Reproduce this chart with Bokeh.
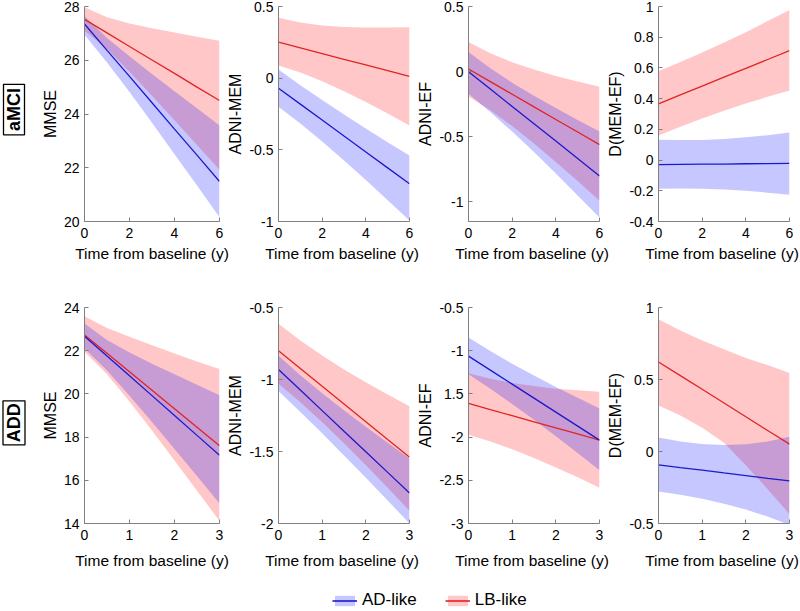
import math
from bokeh.plotting import figure
from bokeh.models import Range1d, FixedTicker, ColumnDataSource, Legend, LegendItem
from bokeh.layouts import row, column
from bokeh.embed import file_html
from bokeh.resources import INLINE
from bokeh.core.properties import value

FONT = "Liberation Sans"
AD_LINE = "#1a1acc"
LB_LINE = "#e02424"
AD_FILL = "#0000ff"
LB_FILL = "#ff0000"
FILL_ALPHA = 0.22
AXIS_GRAY = "#808080"

# ---------------- data ----------------
row_labels = ["aMCI", "ADD"]
x_label = "Time from baseline (y)"
legend_labels = ["AD-like", "LB-like"]
y_titles = ["MMSE", "ADNI-MEM", "ADNI-EF", "D(MEM-EF)"]

t_amci = [0, 1, 2, 3, 4, 5, 6]
t_add = [0, 0.5, 1, 1.5, 2, 2.5, 3]
xticks_amci = [0, 2, 4, 6]
xticks_add = [0, 1, 2, 3]

# aMCI - MMSE
amci_mmse_ad_mid = [27.35, 26.37, 25.40, 24.42, 23.44, 22.47, 21.49]
amci_mmse_ad_lo = [26.95, 25.92, 24.82, 23.67, 22.50, 21.34, 20.16]
amci_mmse_ad_hi = [27.65, 26.83, 26.15, 25.49, 24.85, 24.21, 23.57]
amci_mmse_lb_mid = [27.52, 27.02, 26.51, 26.01, 25.51, 25.00, 24.50]
amci_mmse_lb_lo = [27.10, 26.42, 25.57, 24.68, 23.77, 22.85, 21.93]
amci_mmse_lb_hi = [27.97, 27.60, 27.37, 27.19, 27.03, 26.87, 26.73]
amci_mmse_yticks = [20, 22, 24, 26, 28]
amci_mmse_ylabels = ["20", "22", "24", "26", "28"]
amci_mmse_ylim = [20, 28]

# aMCI - ADNI-MEM
amci_mem_ad_mid = [-0.070, -0.181, -0.292, -0.404, -0.515, -0.626, -0.737]
amci_mem_ad_lo = [-0.200, -0.316, -0.441, -0.574, -0.711, -0.851, -0.993]
amci_mem_ad_hi = [0.060, -0.049, -0.153, -0.254, -0.352, -0.447, -0.540]
amci_mem_lb_mid = [0.251, 0.211, 0.171, 0.131, 0.092, 0.052, 0.012]
amci_mem_lb_lo = [0.088, 0.040, -0.021, -0.091, -0.167, -0.247, -0.330]
amci_mem_lb_hi = [0.421, 0.388, 0.368, 0.357, 0.354, 0.354, 0.356]
amci_mem_yticks = [-1, -0.5, 0, 0.5]
amci_mem_ylabels = ["-1", "-0.5", "0", "0.5"]
amci_mem_ylim = [-1, 0.5]

# aMCI - ADNI-EF
amci_ef_ad_mid = [0.000, -0.133, -0.267, -0.400, -0.533, -0.667, -0.800]
amci_ef_ad_lo = [-0.170, -0.309, -0.460, -0.617, -0.781, -0.950, -1.120]
amci_ef_ad_hi = [0.151, 0.026, -0.085, -0.185, -0.279, -0.371, -0.459]
amci_ef_lb_mid = [0.020, -0.077, -0.173, -0.270, -0.367, -0.463, -0.560]
amci_ef_lb_lo = [-0.190, -0.296, -0.417, -0.552, -0.694, -0.840, -0.990]
amci_ef_lb_hi = [0.228, 0.141, 0.073, 0.016, -0.033, -0.076, -0.116]
amci_ef_yticks = [-1, -0.5, 0, 0.5]
amci_ef_ylabels = ["-1", "-0.5", "0", "0.5"]
amci_ef_ylim = [-1.15, 0.5]

# aMCI - D(MEM-EF)
amci_d_ad_mid = [-0.029, -0.028, -0.027, -0.026, -0.024, -0.023, -0.022]
amci_d_ad_lo = [-0.187, -0.185, -0.186, -0.192, -0.200, -0.212, -0.226]
amci_d_ad_hi = [0.132, 0.130, 0.131, 0.137, 0.148, 0.162, 0.180]
amci_d_lb_mid = [0.366, 0.424, 0.482, 0.540, 0.597, 0.655, 0.713]
amci_d_lb_lo = [0.160, 0.217, 0.271, 0.321, 0.368, 0.412, 0.453]
amci_d_lb_hi = [0.579, 0.638, 0.700, 0.766, 0.833, 0.905, 0.978]
amci_d_yticks = [-0.4, -0.2, 0, 0.2, 0.4, 0.6, 0.8, 1]
amci_d_ylabels = ["-0.4", "-0.2", "0", "0.2", "0.4", "0.6", "0.8", "1"]
amci_d_ylim = [-0.4, 1]

# ADD - MMSE
add_mmse_ad_mid = [22.67, 21.75, 20.84, 19.92, 19.00, 18.08, 17.16]
add_mmse_ad_lo = [22.10, 21.08, 19.92, 18.70, 17.45, 16.20, 14.93]
add_mmse_ad_hi = [23.26, 22.49, 21.92, 21.40, 20.91, 20.42, 19.94]
add_mmse_lb_mid = [22.73, 21.88, 21.02, 20.17, 19.31, 18.46, 17.60]
add_mmse_lb_lo = [21.95, 20.91, 19.65, 18.30, 16.92, 15.52, 14.12]
add_mmse_lb_hi = [23.60, 23.05, 22.65, 22.25, 21.87, 21.50, 21.15]
add_mmse_yticks = [14, 16, 18, 20, 22, 24]
add_mmse_ylabels = ["14", "16", "18", "20", "22", "24"]
add_mmse_ylim = [14, 24]

# ADD - ADNI-MEM
add_mem_ad_mid = [-0.930, -1.073, -1.216, -1.359, -1.502, -1.645, -1.788]
add_mem_ad_lo = [-1.080, -1.225, -1.374, -1.527, -1.682, -1.840, -2.000]
add_mem_ad_hi = [-0.835, -0.971, -1.096, -1.214, -1.328, -1.439, -1.549]
add_mem_lb_mid = [-0.800, -0.923, -1.047, -1.170, -1.293, -1.417, -1.540]
add_mem_lb_lo = [-1.030, -1.158, -1.297, -1.443, -1.595, -1.752, -1.912]
add_mem_lb_hi = [-0.612, -0.729, -0.834, -0.930, -1.019, -1.104, -1.186]
add_mem_yticks = [-2, -1.5, -1, -0.5]
add_mem_ylabels = ["-2", "-1.5", "-1", "-0.5"]
add_mem_ylim = [-2, -0.5]

# ADD - ADNI-EF
add_ef_ad_mid = [-1.063, -1.225, -1.387, -1.549, -1.711, -1.873, -2.035]
add_ef_ad_lo = [-1.272, -1.439, -1.616, -1.800, -1.991, -2.185, -2.383]
add_ef_ad_hi = [-0.847, -1.003, -1.150, -1.287, -1.419, -1.545, -1.669]
add_ef_lb_mid = [-1.611, -1.682, -1.752, -1.823, -1.894, -1.964, -2.035]
add_ef_lb_lo = [-1.974, -2.052, -2.141, -2.242, -2.351, -2.466, -2.587]
add_ef_lb_hi = [-1.260, -1.325, -1.373, -1.410, -1.439, -1.459, -1.476]
add_ef_yticks = [-3, -2.5, -2, -1.5, -1, -0.5]
add_ef_ylabels = ["-3", "-2.5", "-2", "1.5", "-1", "-0.5"]
add_ef_ylim = [-3, -0.5]

# ADD - D(MEM-EF)
add_d_ad_mid = [-0.093, -0.112, -0.130, -0.149, -0.167, -0.186, -0.204]
add_d_ad_lo = [-0.277, -0.300, -0.328, -0.362, -0.402, -0.452, -0.510]
add_d_ad_hi = [0.098, 0.070, 0.052, 0.045, 0.050, 0.070, 0.102]
add_d_lb_mid = [0.622, 0.527, 0.432, 0.337, 0.241, 0.146, 0.051]
add_d_lb_lo = [0.320, 0.250, 0.165, 0.060, -0.095, -0.262, -0.435]
add_d_lb_hi = [0.919, 0.840, 0.770, 0.710, 0.650, 0.600, 0.545]
add_d_yticks = [-0.5, 0, 0.5, 1]
add_d_ylabels = ["-0.5", "0", "0.5", "1"]
add_d_ylim = [-0.5, 1]

panels = [
    [  # aMCI row
        (amci_mmse_ad_mid, amci_mmse_ad_lo, amci_mmse_ad_hi, amci_mmse_lb_mid, amci_mmse_lb_lo, amci_mmse_lb_hi,
         amci_mmse_yticks, amci_mmse_ylabels, amci_mmse_ylim),
        (amci_mem_ad_mid, amci_mem_ad_lo, amci_mem_ad_hi, amci_mem_lb_mid, amci_mem_lb_lo, amci_mem_lb_hi,
         amci_mem_yticks, amci_mem_ylabels, amci_mem_ylim),
        (amci_ef_ad_mid, amci_ef_ad_lo, amci_ef_ad_hi, amci_ef_lb_mid, amci_ef_lb_lo, amci_ef_lb_hi,
         amci_ef_yticks, amci_ef_ylabels, amci_ef_ylim),
        (amci_d_ad_mid, amci_d_ad_lo, amci_d_ad_hi, amci_d_lb_mid, amci_d_lb_lo, amci_d_lb_hi,
         amci_d_yticks, amci_d_ylabels, amci_d_ylim),
    ],
    [  # ADD row
        (add_mmse_ad_mid, add_mmse_ad_lo, add_mmse_ad_hi, add_mmse_lb_mid, add_mmse_lb_lo, add_mmse_lb_hi,
         add_mmse_yticks, add_mmse_ylabels, add_mmse_ylim),
        (add_mem_ad_mid, add_mem_ad_lo, add_mem_ad_hi, add_mem_lb_mid, add_mem_lb_lo, add_mem_lb_hi,
         add_mem_yticks, add_mem_ylabels, add_mem_ylim),
        (add_ef_ad_mid, add_ef_ad_lo, add_ef_ad_hi, add_ef_lb_mid, add_ef_lb_lo, add_ef_lb_hi,
         add_ef_yticks, add_ef_ylabels, add_ef_ylim),
        (add_d_ad_mid, add_d_ad_lo, add_d_ad_hi, add_d_lb_mid, add_d_lb_lo, add_d_lb_hi,
         add_d_yticks, add_d_ylabels, add_d_ylim),
    ],
]
row_times = [t_amci, t_add]
row_xticks = [xticks_amci, xticks_add]
row_xmax = [6, 3]

# ---------------- layout geometry (pixels) ----------------
TOTAL_W = 800
LABEL_W = 34
FRAME_W = 135
COL_GEOM = [  # (left border, right border)
    (50, 5),
    (50, 5),
    (50, 5),
    (50, 11),
]
ROW_GEOM = [  # (figure height, top border, bottom border)
    (243, 6, 22),
    (280, 42, 22),
]
STRIP_GEOM = [  # (strip height, text centre from strip bottom)
    (22, 12),
    (30, 15),
]
LEG_H = 36
ROW_LABEL_CY = [126.5, 130.5]  # from label-figure bottom
BOX_CX = 13.5
BOX_W = [21, 22]
BOX_H = [57, 57]

# frame centres along x, derived from the geometry
frame_centres = []
_x = LABEL_W
for bl, br in COL_GEOM:
    frame_centres.append(_x + bl + FRAME_W / 2)
    _x += bl + FRAME_W + br


def blank_fig(w, h):
    p = figure(width=w, height=h, x_range=Range1d(0, w), y_range=Range1d(0, h),
               x_axis_type=None, y_axis_type=None, toolbar_location=None,
               output_backend="svg")
    p.min_border_left = 0
    p.min_border_right = 0
    p.min_border_top = 0
    p.min_border_bottom = 0
    p.outline_line_color = None
    p.grid.visible = False
    p.background_fill_color = "white"
    p.border_fill_color = "white"
    return p


def make_label_fig(r):
    h = ROW_GEOM[r][0]
    p = blank_fig(LABEL_W, h)
    cy = ROW_LABEL_CY[r]
    p.rect(x=[BOX_CX], y=[cy], width=BOX_W[r], height=BOX_H[r], fill_color=None,
           line_color="black", line_width=1.3)
    p.text(x=[BOX_CX], y=[cy], text=[row_labels[r]], angle=math.pi / 2,
           text_align="center", text_baseline="middle",
           text_font=value(FONT), text_font_style="bold", text_font_size="18px",
           text_color="black")
    return p


def make_strip(r):
    h, ty = STRIP_GEOM[r]
    p = blank_fig(TOTAL_W, h)
    p.text(x=frame_centres, y=[ty] * len(frame_centres), text=[x_label] * len(frame_centres),
           text_align="center", text_baseline="middle",
           text_font=value(FONT), text_font_size="15.5px", text_color="black")
    return p


def make_panel(r, c):
    ad_mid, ad_lo, ad_hi, lb_mid, lb_lo, lb_hi, yticks, ylabels, ylim = panels[r][c]
    t = row_times[r]
    h, bt, bb = ROW_GEOM[r]
    bl, br = COL_GEOM[c]
    p = figure(width=bl + FRAME_W + br, height=h, x_range=Range1d(0, row_xmax[r]),
               y_range=Range1d(ylim[0], ylim[1]), toolbar_location=None,
               output_backend="svg")
    p.min_border_left = bl
    p.min_border_right = br
    p.min_border_top = bt
    p.min_border_bottom = bb
    p.outline_line_color = None
    p.grid.visible = False
    p.background_fill_color = "white"
    p.border_fill_color = "white"

    src = ColumnDataSource(dict(t=t, ad_mid=ad_mid, ad_lo=ad_lo, ad_hi=ad_hi,
                                lb_mid=lb_mid, lb_lo=lb_lo, lb_hi=lb_hi))
    p.varea(x="t", y1="lb_lo", y2="lb_hi", source=src, fill_color=LB_FILL, fill_alpha=FILL_ALPHA)
    p.varea(x="t", y1="ad_lo", y2="ad_hi", source=src, fill_color=AD_FILL, fill_alpha=FILL_ALPHA)
    p.line(x="t", y="lb_mid", source=src, line_color=LB_LINE, line_width=1.3)
    p.line(x="t", y="ad_mid", source=src, line_color=AD_LINE, line_width=1.3)

    p.xaxis.ticker = FixedTicker(ticks=row_xticks[r])
    p.xaxis.major_label_overrides = {v: str(v) for v in row_xticks[r]}
    p.yaxis.ticker = FixedTicker(ticks=yticks)
    p.yaxis.major_label_overrides = dict(zip(yticks, ylabels))

    p.yaxis.axis_label = y_titles[c]
    for ax in (p.xaxis, p.yaxis):
        ax.axis_line_color = AXIS_GRAY
        ax.axis_line_width = 1
        ax.major_tick_line_color = AXIS_GRAY
        ax.major_tick_in = 4
        ax.major_tick_out = 0
        ax.minor_tick_line_color = None
        ax.major_label_text_font = FONT
        ax.major_label_text_font_size = "14px"
        ax.major_label_text_color = "black"
        ax.axis_label_text_font = FONT
        ax.axis_label_text_font_style = "normal"
        ax.axis_label_text_color = "black"
    p.yaxis.axis_label_text_font_size = "16px"
    p.xaxis.major_label_standoff = 6
    p.yaxis.major_label_standoff = 5
    p.yaxis.axis_label_standoff = 2
    return p


blocks = []
for r in range(2):
    figs = [make_label_fig(r)] + [make_panel(r, c) for c in range(4)]
    blocks.append(row(*figs, spacing=0))
    blocks.append(make_strip(r))

# legend figure
leg = blank_fig(TOTAL_W, LEG_H)
off = ColumnDataSource(dict(x=[0, 1], y1=[-20, -20], y2=[-10, -10], y=[-15, -15]))
ad_a = leg.varea(x="x", y1="y1", y2="y2", source=off, fill_color=AD_FILL, fill_alpha=FILL_ALPHA)
ad_l = leg.line(x="x", y="y", source=off, line_color=AD_LINE, line_width=1.6)
lb_a = leg.varea(x="x", y1="y1", y2="y2", source=off, fill_color=LB_FILL, fill_alpha=FILL_ALPHA)
lb_l = leg.line(x="x", y="y", source=off, line_color=LB_LINE, line_width=1.6)
legend = Legend(items=[LegendItem(label=legend_labels[0], renderers=[ad_a, ad_l]),
                       LegendItem(label=legend_labels[1], renderers=[lb_a, lb_l])],
                orientation="horizontal", location=(332, 1),
                label_text_font=FONT, label_text_font_size="17px", label_text_color="black",
                glyph_width=25, glyph_height=13, label_standoff=5, spacing=28,
                padding=0, margin=0, border_line_color=None,
                background_fill_alpha=0)
leg.add_layout(legend)
blocks.append(leg)

layout = column(*blocks, spacing=0)

open("out.html", "w").write(file_html(layout, INLINE))
